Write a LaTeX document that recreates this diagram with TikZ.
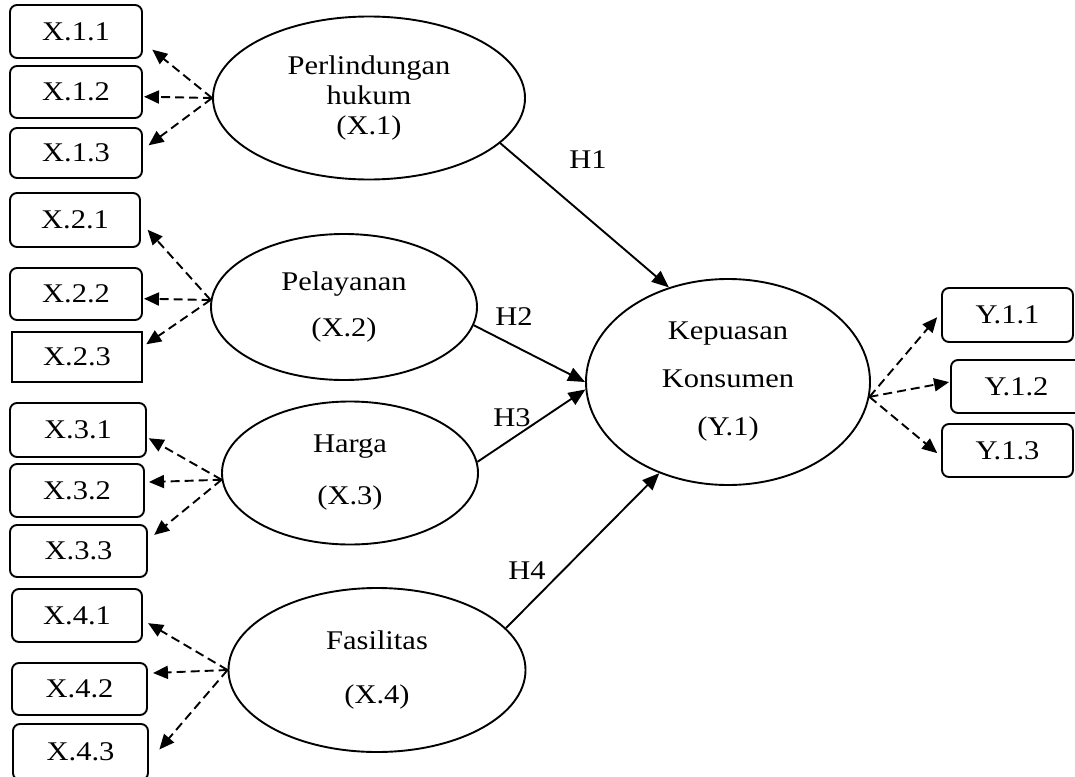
\documentclass[tikz,border=0pt]{standalone}
\usepackage{fontspec}
\setmainfont{Liberation Serif}[FakeStretch=1.13]
\usepackage{tikz}
\usetikzlibrary{shapes.geometric, arrows.meta, positioning}
\tikzset{
    indik/.style={
        draw,
        rounded corners=7pt,
        line width=1.9pt,
        inner sep=0pt,
        minimum width=132pt,
        minimum height=52pt
    },
    laten/.style={
        draw,
        ellipse,
        line width=1.9pt,
        inner sep=0pt,
        align=center
    },
    hyp/.style={
        -{Triangle[length=17pt,width=14pt]},
        line width=1.9pt
    },
    load/.style={
        -{Triangle[length=15pt,width=13pt]},
        dash pattern=on 9pt off 5pt,
        line width=1.9pt
    }
}

\begin{document}
\begin{tikzpicture}[x=1pt, y=-1pt, font=\fontsize{27}{30}\selectfont]
    \useasboundingbox (0,0) rectangle (1075,776);

    % variabel laten
    \node[laten, minimum width=312pt, minimum height=163pt] (X1) at (369,98) {Perlindungan\\hukum\\(X.1)};
    \node[laten, minimum width=266pt, minimum height=146pt] (X2) at (344,307) {Pelayanan\\[16pt](X.2)};
    \node[laten, minimum width=256pt, minimum height=143pt] (X3) at (350,473) {Harga\\[22pt](X.3)};
    \node[laten, minimum width=297pt, minimum height=164pt] (X4) at (377,670) {Fasilitas\\[24pt](X.4)};
    \node[laten, minimum width=284pt, minimum height=206pt] (Y1) at (728,382) {Kepuasan\\[18pt]Konsumen\\[18pt](Y.1)};

    % indikator
    \node[indik, minimum height=53pt] (x11) at (76,31.5) {X.1.1};
    \node[indik] (x12) at (76,92) {X.1.2};
    \node[indik, minimum height=50pt] (x13) at (76,153) {X.1.3};
    \node[indik, minimum width=130pt, minimum height=54pt] (x21) at (75,220) {X.2.1};
    \node[indik] (x22) at (76,294) {X.2.2};
    \node[indik, rounded corners=0pt, minimum width=130pt, minimum height=50pt] (x23) at (77,357) {X.2.3};
    \node[indik, minimum width=136pt, minimum height=54pt] (x31) at (78,430) {X.3.1};
    \node[indik, minimum width=134pt, minimum height=53pt] (x32) at (77,490.5) {X.3.2};
    \node[indik, minimum width=137pt] (x33) at (78.5,551) {X.3.3};
    \node[indik, minimum width=130pt, minimum height=53pt] (x41) at (77,615.5) {X.4.1};
    \node[indik, minimum width=135pt] (x42) at (79.5,689) {X.4.2};
    \node[indik, minimum width=135pt, minimum height=56pt] (x43) at (80.5,752) {X.4.3};
    \node[indik, minimum width=131pt, minimum height=54pt] (y11) at (1007.5,315) {Y.1.1};
    \node[indik, minimum width=131pt, minimum height=53pt] (y12) at (1016.5,386.5) {Y.1.2};
    \node[indik, minimum width=131pt, minimum height=53pt] (y13) at (1007.5,450.5) {Y.1.3};

    % hipotesis
    \node (h1) at (588,160) {H1};
    \node (h2) at (514,317) {H2};
    \node (h3) at (512,418) {H3};
    \node (h4) at (527,571) {H4};

    \draw[hyp] (X1.-19) -- (Y1.122);
    \draw[hyp] (X2.-8) -- (Y1.180);
    \draw[hyp] (X3.5) -- (Y1.183);
    \draw[hyp] (X4.18) -- (Y1.233);

    % loading
    \draw[load, shorten >=12pt] (X1.west) -- (x11.-9);
    \draw[load, shorten >=1pt] (X1.west) -- (x12.-4);
    \draw[load, shorten >=7pt] (X1.west) -- (x13.3);

    \draw[load, shorten >=10pt] (X2.177) -- (x21.-2);
    \draw[load, shorten >=1pt] (X2.177) -- (x22.-4);
    \draw[load, shorten >=4pt] (X2.177) -- (x23.9);

    \draw[load, shorten >=2pt] (X3.183) -- (x31.-6);
    \draw[load, shorten >=4pt] (X3.183) -- (x32.7);
    \draw[load, shorten >=8pt] (X3.183) -- (x33.9);

    \draw[load, shorten >=6pt] (X4.west) -- (x41.-4);
    \draw[load, shorten >=5pt] (X4.west) -- (x42.13);
    \draw[load, shorten >=16pt] (X4.west) -- (x43.-8.5);

    \draw[load, shorten >=6pt] (Y1.-6) -- (y11.178);
    \draw[load, shorten >=1pt] (Y1.-6) -- (y12.176);
    \draw[load, shorten >=5pt] (Y1.-6) -- (y13.185);
\end{tikzpicture}
\end{document}
